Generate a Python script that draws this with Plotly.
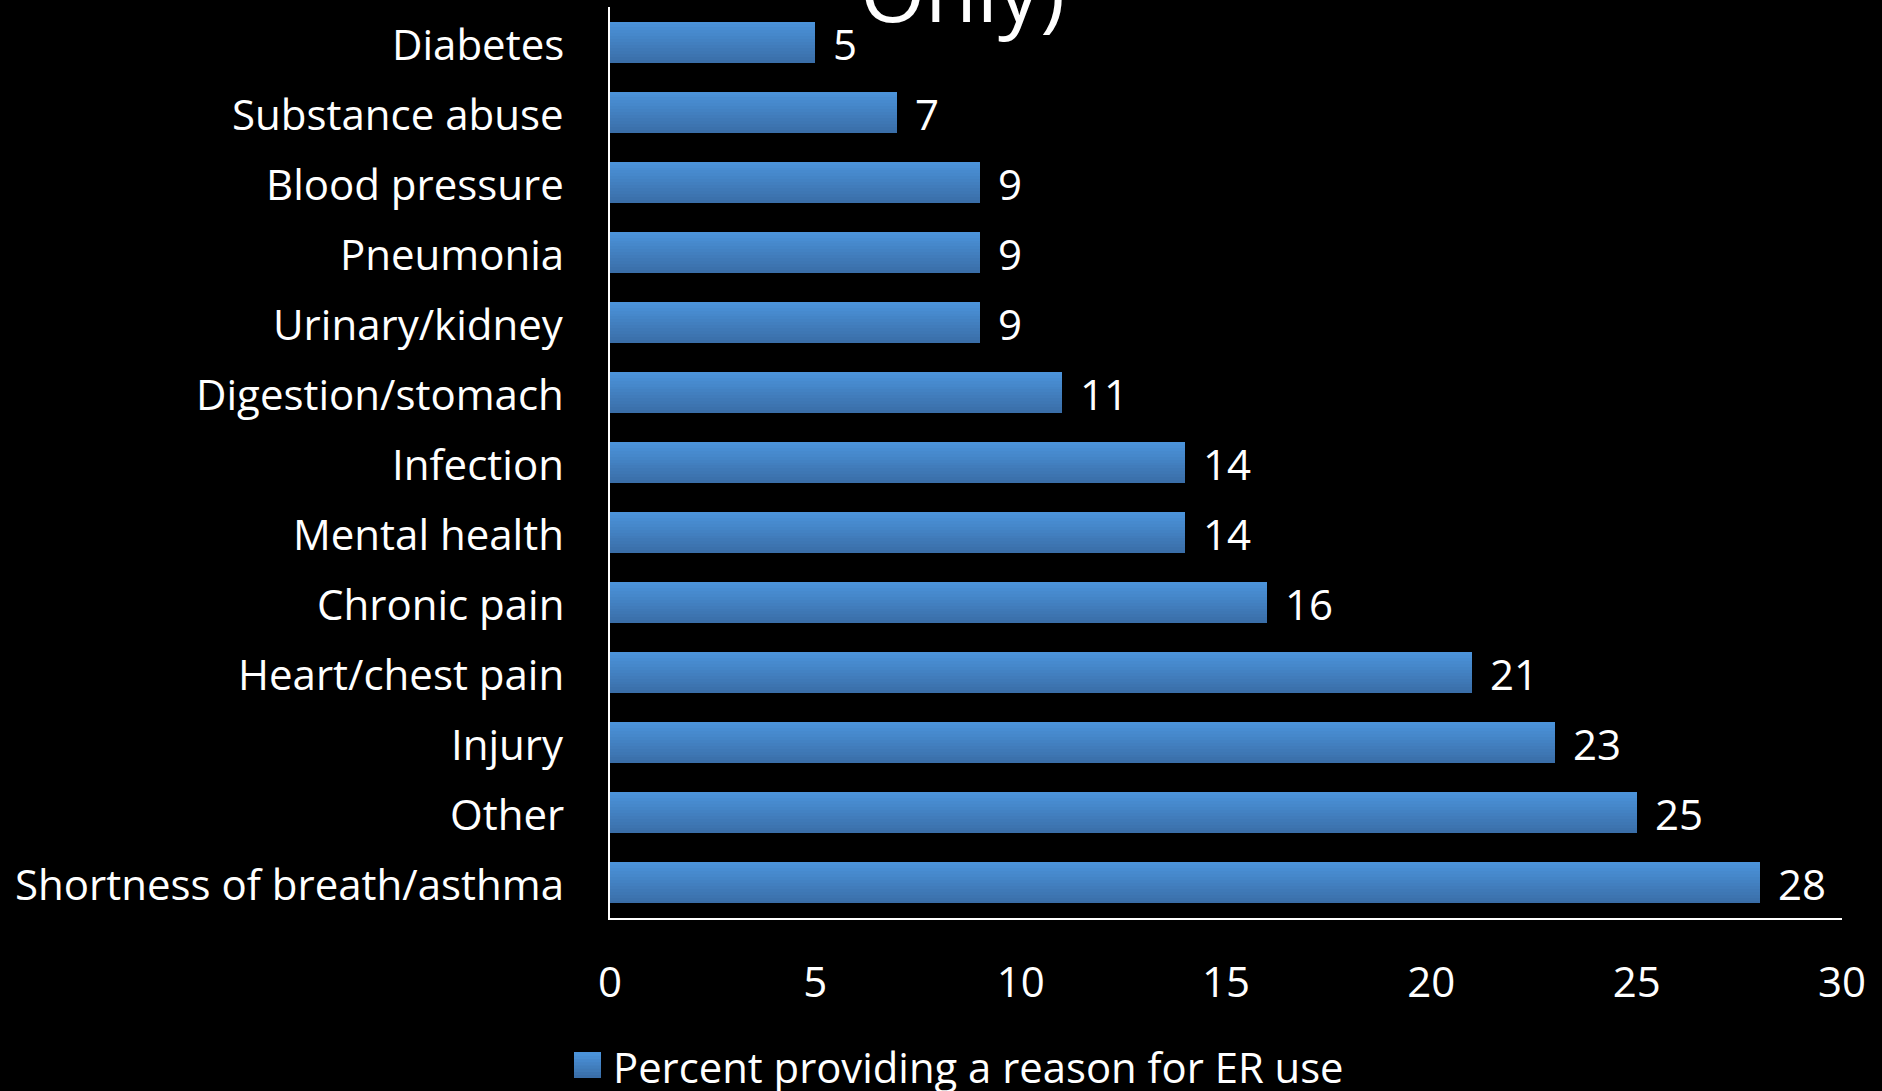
import plotly.graph_objects as go

categories = ["Diabetes", "Substance abuse", "Blood pressure", "Pneumonia", "Urinary/kidney",
              "Digestion/stomach", "Infection", "Mental health", "Chronic pain",
              "Heart/chest pain", "Injury", "Other", "Shortness of breath/asthma"]
values = [5, 7, 9, 9, 9, 11, 14, 14, 16, 21, 23, 25, 28]
x_ticks = [0, 5, 10, 15, 20, 25, 30]
series_name = "Percent providing a reason for ER use"
title_visible = "Only)"

FONT = "Open Sans"
W, H = 1882, 1091
L, R, T, B = 610, 40, 7, 173
pw, ph = W - L - R, H - T - B

dark = (0x3A, 0x6E, 0xA8)
light = (0x4B, 0x93, 0xDA)
def mix(t):
    return "rgb(%d,%d,%d)" % tuple(round(d + (l - d) * t) for d, l in zip(dark, light))

def px2x(px):
    return (px - L) / pw
def py2y(py):
    return (H - B - py) / ph

bw = 0.586
n = 14
s = bw / n
fig = go.Figure()
for i in range(n):
    fig.add_trace(go.Bar(
        y=categories, x=values, orientation="h",
        width=bw - i * s, offset=-bw / 2,
        marker=dict(color=mix(i / (n - 1)), line=dict(width=0)),
        showlegend=False, hoverinfo="x+y" if i == 0 else "skip",
    ))

# value labels
for c, v in zip(categories, values):
    fig.add_annotation(x=v, y=c, xref="x", yref="y", text=str(v), showarrow=False,
                       xanchor="left", yanchor="middle", xshift=16, yshift=-1,
                       font=dict(family=FONT, size=42, color="white"))

# category labels
for c in categories:
    fig.add_annotation(x=px2x(566), y=c, xref="paper", yref="y", text=c, showarrow=False,
                       xanchor="right", yanchor="middle", yshift=-1,
                       font=dict(family=FONT, size=42, color="white"))

# Legend (manual, large swatch)
sx0, sx1, sy0, sy1 = 574, 601, 1052, 1078
m = 8
for i in range(m):
    y0 = sy1 - (sy1 - sy0) * i / m
    fig.add_shape(type="rect", xref="paper", yref="paper",
                  x0=px2x(sx0), x1=px2x(sx1), y0=py2y(sy0), y1=py2y(y0 + 0.5 if i else y0),
                  fillcolor=mix(i / (m - 1)), line=dict(width=0), layer="above")
fig.add_annotation(xref="paper", yref="paper", x=px2x(611), y=py2y(1066),
                   text=series_name, showarrow=False, xanchor="left", yanchor="middle",
                   font=dict(family=FONT, size=41.8, color="white"))

# Cut-off title fragment
fig.add_annotation(xref="paper", yref="paper", x=px2x(962), y=py2y(49),
                   text=title_visible, showarrow=False, xanchor="center", yanchor="bottom",
                   font=dict(family=FONT, size=84, color="white"))

fig.update_layout(
    width=W, height=H, autosize=False,
    margin=dict(l=L, r=R, t=T, b=B, pad=0),
    paper_bgcolor="black", plot_bgcolor="black",
    barmode="overlay", bargap=0,
    font=dict(family=FONT, size=42, color="white"),
    showlegend=False,
)
fig.update_xaxes(range=[0, 30], tickvals=x_ticks, showgrid=False, zeroline=False,
                 showline=True, linecolor="white", linewidth=2, ticks="",
                 ticklabelstandoff=27, tickfont=dict(family=FONT, size=42, color="white"))
fig.update_yaxes(range=[len(categories) - 0.5, -0.5], showgrid=False, zeroline=False,
                 showline=True, linecolor="white", linewidth=2, ticks="",
                 showticklabels=False)

fig.write_html("out.html")
